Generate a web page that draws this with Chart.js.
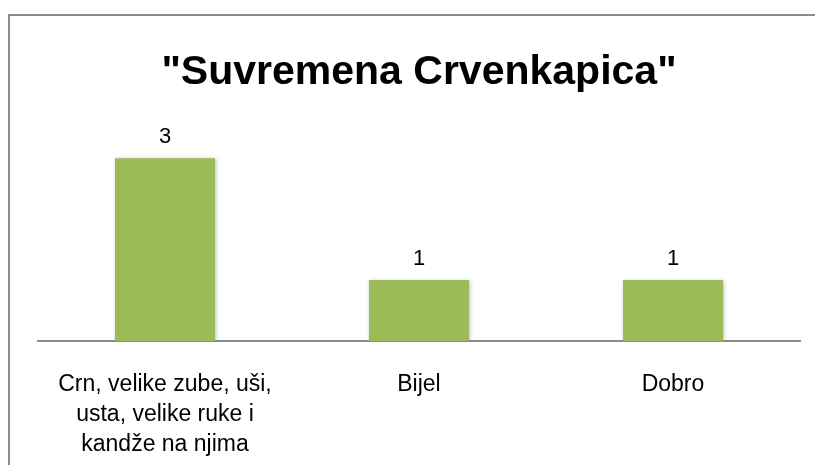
<!DOCTYPE html>
<html>
<head>
<meta charset="utf-8">
<script src="https://cdn.jsdelivr.net/npm/chart.js@4"></script>
<style>
html,body{margin:0;padding:0;background:#fff;}
#wrap{position:absolute;left:0;top:0;width:815px;height:465px;}
</style>
</head>
<body>
<div id="wrap"><canvas id="c" width="815" height="465"></canvas></div>
<script>
const chartTitle = '"Suvremena Crvenkapica"';
const categories = [
  ['Crn, velike zube, uši,', 'usta, velike ruke i', 'kandže na njima'],
  'Bijel',
  'Dobro'
];
const values = [3, 1, 1];

const frame = {
  id: 'frame',
  beforeDraw(chart) {
    const ctx = chart.ctx;
    ctx.save();
    ctx.fillStyle = '#fff';
    ctx.fillRect(0, 0, chart.width, chart.height);
    ctx.strokeStyle = '#8c8c8c';
    ctx.lineWidth = 2;
    ctx.strokeRect(9, 15, chart.width + 20, chart.height + 20);
    ctx.restore();
  }
};

const shadow = {
  id: 'shadow',
  beforeDatasetsDraw(chart) {
    const ctx = chart.ctx;
    ctx.save();
    ctx.shadowColor = 'rgba(0,0,0,0.25)';
    ctx.shadowBlur = 4;
    ctx.shadowOffsetX = 1;
    ctx.shadowOffsetY = 1;
  },
  afterDatasetsDraw(chart) {
    chart.ctx.restore();
    const ctx = chart.ctx;
    const meta = chart.getDatasetMeta(0);
    ctx.save();
    ctx.font = '22px "Liberation Sans", Arial, sans-serif';
    ctx.fillStyle = '#000';
    ctx.textAlign = 'center';
    ctx.textBaseline = 'middle';
    meta.data.forEach((bar, i) => {
      ctx.fillText(String(values[i]), bar.x, bar.y - 21);
    });
    ctx.restore();
  }
};

new Chart(document.getElementById('c'), {
  type: 'bar',
  data: {
    labels: categories,
    datasets: [{
      data: values,
      backgroundColor: '#9BBB59',
      borderWidth: 0,
      barPercentage: 1,
      categoryPercentage: 0.394
    }]
  },
  options: {
    responsive: false,
    animation: false,
    devicePixelRatio: 1,
    layout: { padding: { left: 38, right: 15, top: 0, bottom: -24 } },
    plugins: {
      legend: { display: false },
      tooltip: { enabled: false },
      title: {
        display: true,
        text: chartTitle,
        color: '#000',
        font: { family: '"Liberation Sans", Arial, sans-serif', size: 41, weight: 'bold', lineHeight: 1.2 },
        padding: { top: 48, bottom: 0 }
      }
    },
    scales: {
      x: {
        grid: { display: false, drawTicks: false },
        border: { display: true, color: '#8c8c8c', width: 2 },
        ticks: {
          color: '#000',
          font: { family: '"Liberation Sans", Arial, sans-serif', size: 23, lineHeight: '30px' },
          padding: 29,
          maxRotation: 0,
          autoSkip: false
        }
      },
      y: {
        display: false,
        min: 0,
        max: 4
      }
    }
  },
  plugins: [frame, shadow]
});
</script>
</body>
</html>
